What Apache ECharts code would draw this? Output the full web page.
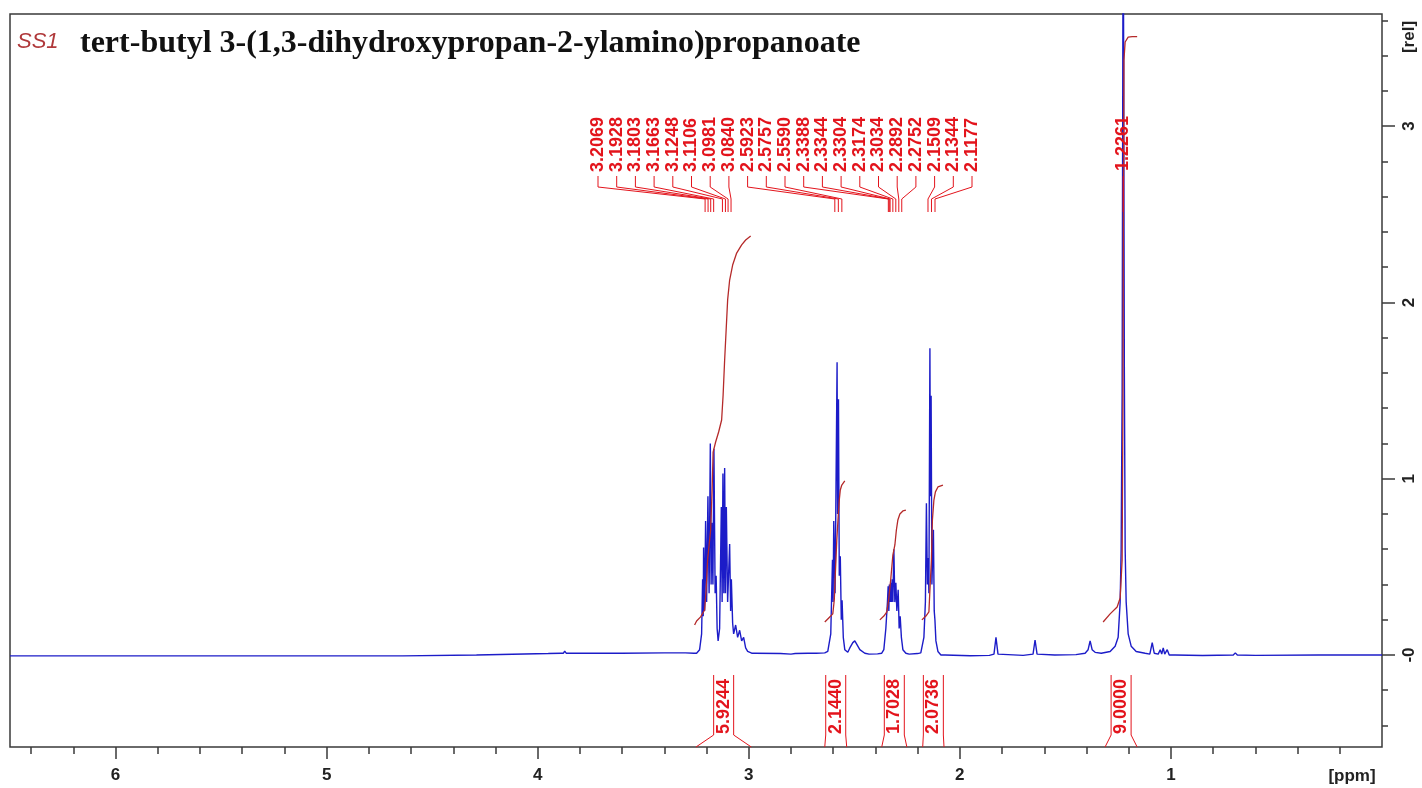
<!DOCTYPE html>
<html>
<head>
<meta charset="utf-8">
<style>
  html, body { margin: 0; padding: 0; background: #fff; }
  #chart { width: 1422px; height: 788px; }
</style>
</head>
<body>
<div id="chart"></div>
<script src="https://cdn.jsdelivr.net/npm/echarts@6/dist/echarts.min.js"></script>
<script>
// spectrum pieces, [ppm, rel]
const baselinePts = [
  [6.5, -0.005], [4.64, -0.005], [4.635, 0.0], [4.29, 0.0], [4.285, 0.006], [3.95, 0.008],
  [3.89, 0.01], [3.885, 0.02], [3.878, 0.01], [3.872, 0.022], [3.865, 0.01], [3.6, 0.01],
  [3.40, 0.012], [3.30, 0.012], [3.26, 0.01],
  [2.97, 0.01], [2.85, 0.008], [2.80, 0.005], [2.78, 0.008], [2.72, 0.01], [2.68, 0.01], [2.64, 0.012],
  [2.43, 0.005], [2.39, 0.006], [2.37, 0.01],
  [2.24, 0.005], [2.20, 0.008], [2.185, 0.012],
  [2.07, 0.0], [1.95, -0.004], [1.86, -0.002], [1.70, -0.002], [1.55, 0], [1.45, 0.002],
  [1.33, 0.01], [1.10, 0.005], [0.98, 0.0], [0.85, -0.003], [0.60, -0.002], [0.30, 0], [0.0, 0]
];
const mult1 = [
  [3.2472, 0.01], [3.2329, 0.03], [3.2234, 0.12], [3.2187, 0.43], [3.2158, 0.22], [3.2140, 0.61],
  [3.2092, 0.25], [3.2045, 0.76], [3.1997, 0.30], [3.1935, 0.90], [3.1879, 0.35], [3.1822, 1.20],
  [3.1784, 0.40], [3.1746, 0.75], [3.1698, 0.40], [3.1651, 1.17], [3.1594, 0.35], [3.1546, 0.45],
  [3.1499, 0.15], [3.1452, 0.08], [3.1381, 0.15], [3.1300, 0.84], [3.1262, 0.30], [3.1224, 1.03],
  [3.1181, 0.35], [3.1143, 1.06], [3.1105, 0.35], [3.1063, 0.84], [3.1001, 0.30], [3.0906, 0.63],
  [3.0859, 0.25], [3.0825, 0.43], [3.0764, 0.18], [3.0716, 0.12], [3.0622, 0.17], [3.0527, 0.10],
  [3.0432, 0.14], [3.0337, 0.08], [3.0243, 0.10], [3.0148, 0.04], [3.0053, 0.02], [2.9863, 0.01]
];
const mult2 = [
  [2.6257, 0.02], [2.6115, 0.12], [2.6034, 0.54], [2.6006, 0.30], [2.5973, 0.76], [2.5911, 0.35],
  [2.5816, 1.66], [2.5792, 0.80], [2.5750, 1.45], [2.5712, 0.45], [2.5664, 0.56], [2.5617, 0.20],
  [2.5579, 0.31], [2.5522, 0.10], [2.5451, 0.03], [2.5308, 0.015],
  [2.5213, 0.04], [2.5071, 0.07], [2.4976, 0.08], [2.4881, 0.06], [2.4739, 0.03], [2.4502, 0.01]
];
const mult3 = [
  [2.3601, 0.03], [2.3506, 0.15], [2.3430, 0.30], [2.3397, 0.39], [2.3364, 0.25], [2.3340, 0.40],
  [2.3307, 0.30], [2.3278, 0.41], [2.3245, 0.30], [2.3207, 0.43], [2.3174, 0.30], [2.3126, 0.60],
  [2.3079, 0.30], [2.3031, 0.41], [2.2984, 0.25], [2.2922, 0.37], [2.2875, 0.15], [2.2827, 0.22],
  [2.2770, 0.10], [2.2699, 0.03], [2.2557, 0.01]
];
const mult4 = [
  [2.1798, 0.02], [2.1703, 0.10], [2.1632, 0.30], [2.1584, 0.86], [2.1537, 0.40], [2.1499, 0.55],
  [2.1466, 0.35], [2.1418, 1.74], [2.1395, 0.90], [2.1361, 1.47], [2.1324, 0.40], [2.1252, 0.71],
  [2.1214, 0.25], [2.1181, 0.20], [2.1134, 0.08], [2.1039, 0.02], [2.0897, 0.0]
];
const singlet = [
  [1.2880, 0.02], [1.2643, 0.05], [1.2500, 0.10], [1.2405, 0.30], [1.2358, 0.60], [1.2311, 1.50],
  [1.2261, 4.50], [1.2206, 1.60], [1.2168, 0.60], [1.2120, 0.30], [1.2026, 0.12], [1.1883, 0.05],
  [1.1646, 0.02], [1.1220, 0.01]
];
const smallPeaks = [
  [1.8383, 0.005], [1.8288, 0.10], [1.8193, 0.005],
  [1.6532, 0.005], [1.6437, 0.085], [1.6342, 0.005],
  [1.4066, 0.01], [1.3923, 0.03], [1.3828, 0.08], [1.3733, 0.03], [1.3591, 0.015],
  [1.0982, 0.01], [1.0886, 0.07], [1.0791, 0.01],
  [1.0602, 0.005], [1.0507, 0.03], [1.0436, 0.005], [1.0365, 0.04], [1.0294, 0.005], [1.0175, 0.03], [1.0081, 0.0],
  [0.7045, 0.0], [0.6950, 0.012], [0.6855, 0.0]
];

// integral curves
const integral1 = [
  [3.2566, 0.170], [3.2471, 0.193], [3.2281, 0.216], [3.2092, 0.255], [3.2021, 0.369], [3.1950, 0.539],
  [3.1807, 0.709], [3.1736, 0.936], [3.1689, 1.151], [3.1570, 1.208], [3.1428, 1.265], [3.1286, 1.333],
  [3.1215, 1.475], [3.1143, 1.673], [3.1072, 1.843], [3.1001, 2.014], [3.0906, 2.127], [3.0764, 2.212],
  [3.0574, 2.280], [3.0337, 2.326], [3.0147, 2.354], [2.9910, 2.377]
];
const integral2 = [
  [2.6399, 0.187], [2.6210, 0.210], [2.6020, 0.233], [2.5949, 0.312], [2.5901, 0.454], [2.5830, 0.652],
  [2.5759, 0.794], [2.5712, 0.879], [2.5664, 0.936], [2.5593, 0.964], [2.5451, 0.987]
];
const integral3 = [
  [2.3790, 0.199], [2.3600, 0.221], [2.3458, 0.244], [2.3363, 0.323], [2.3268, 0.437], [2.3173, 0.567],
  [2.3078, 0.624], [2.3007, 0.709], [2.2936, 0.766], [2.2841, 0.800], [2.2699, 0.817], [2.2557, 0.822]
];
const integral4 = [
  [2.1798, 0.199], [2.1608, 0.221], [2.1466, 0.244], [2.1418, 0.369], [2.1347, 0.539], [2.1300, 0.766],
  [2.1229, 0.879], [2.1157, 0.925], [2.1039, 0.953], [2.0801, 0.964]
];
const integral5 = [
  [1.3212, 0.187], [1.2880, 0.233], [1.2548, 0.272], [1.2405, 0.323], [1.2311, 0.539], [1.2273, 1.446],
  [1.2249, 2.581], [1.2226, 3.375], [1.2169, 3.477], [1.2026, 3.505], [1.1837, 3.508], [1.1600, 3.508]
];

// peak picking and integration labels
const peakList = [3.2069, 3.1928, 3.1803, 3.1663, 3.1248, 3.1106, 3.0981, 3.0840,
  2.5923, 2.5757, 2.5590, 2.3388, 2.3344, 2.3304, 2.3174, 2.3034, 2.2892, 2.2752,
  2.1509, 2.1344, 2.1177];
const soloPeaks = [1.2261];
const integralFrom = [3.250, 2.640, 2.370, 2.176, 1.312];
const integralTo = [2.988, 2.536, 2.251, 2.075, 1.160];
const integralValues = [5.9244, 2.1440, 1.7028, 2.0736, 9.0000];

const xMajor = [1, 2, 3, 4, 5, 6];
const xMinor = [0.2, 0.4, 0.6, 0.8, 1.2, 1.4, 1.6, 1.8, 2.2, 2.4, 2.6, 2.8, 3.2, 3.4, 3.6, 3.8,
  4.2, 4.4, 4.6, 4.8, 5.2, 5.4, 5.6, 5.8, 6.2, 6.4];
const yMajor = [0, 1, 2, 3];
const yMinor = [-0.4, -0.2, 0.2, 0.4, 0.6, 0.8, 1.2, 1.4, 1.6, 1.8, 2.2, 2.4, 2.6, 2.8, 3.2, 3.4, 3.6];

const spectrum = [].concat(baselinePts, mult1, mult2, mult3, mult4, singlet, smallPeaks)
  .sort((a, b) => b[0] - a[0]);

const BLUE = '#1c1cc8';
const RED = '#e3141c';
const DARKRED = '#b52a2a';
const AXIS = '#3a3a3a';
const labelFont = 'bold 18px "Liberation Sans", Arial, sans-serif';
const labelStart = 598;
const labelStep = 18.7;

const chart = echarts.init(document.getElementById('chart'));

const tickAxisX = (values, len, labels) => ({
  type: 'value', min: 0, max: 6.5, inverse: true, position: 'bottom',
  axisLine: { show: false, onZero: false },
  splitLine: { show: false },
  axisTick: { show: true, customValues: values, length: len, lineStyle: { color: AXIS, width: 1.5 } },
  axisLabel: labels ? {
    show: true, customValues: values, margin: 20,
    fontFamily: 'Liberation Sans', fontWeight: 'bold', fontSize: 17, color: '#222'
  } : { show: false }
});
const tickAxisY = (values, len, labels) => ({
  type: 'value', min: -0.522, max: 3.636, position: 'right',
  axisLine: { show: false, onZero: false },
  splitLine: { show: false },
  axisTick: { show: true, customValues: values, length: len, lineStyle: { color: AXIS, width: 1.5 } },
  axisLabel: labels ? {
    show: true, customValues: values, margin: 19, rotate: 90,
    formatter: (v) => (v === 0 ? '-0' : String(v)),
    fontFamily: 'Liberation Sans', fontWeight: 'bold', fontSize: 17, color: '#222'
  } : { show: false }
});

const integralSeries = [integral1, integral2, integral3, integral4, integral5].map((d) => ({
  type: 'line', data: d, showSymbol: false, silent: true,
  lineStyle: { color: DARKRED, width: 1.3 }, z: 3
}));

const option = {
  animation: false,
  backgroundColor: '#fff',
  title: [
    {
      text: 'SS1', left: 12, top: 26,
      textStyle: { fontFamily: 'Liberation Sans', fontStyle: 'italic', fontWeight: 'normal', fontSize: 22, color: '#b0393b' }
    },
    {
      text: 'tert-butyl 3-(1,3-dihydroxypropan-2-ylamino)propanoate', left: 75, top: 23,
      textStyle: { fontFamily: 'Liberation Serif', fontWeight: 'bold', fontSize: 32, color: '#111' }
    }
  ],
  grid: {
    left: 10, right: 40, top: 14, bottom: 41,
    show: true, borderColor: AXIS, borderWidth: 1.5, backgroundColor: '#fff',
    outerBoundsMode: 'none'
  },
  xAxis: [tickAxisX(xMajor, 12, true), tickAxisX(xMinor, 7, false)],
  yAxis: [tickAxisY(yMajor, 13, true), tickAxisY(yMinor, 6, false)],
  graphic: [
    { type: 'text', x: 1352, y: 776, style: { text: '[ppm]', font: 'bold 17px "Liberation Sans"', fill: '#222', align: 'center', verticalAlign: 'middle' } },
    { type: 'text', x: 1409, y: 37, rotation: Math.PI / 2, style: { text: '[rel]', font: 'bold 17px "Liberation Sans"', fill: '#222', align: 'center', verticalAlign: 'middle' } }
  ],
  series: [
    {
      type: 'line', data: spectrum, showSymbol: false, silent: true,
      lineStyle: { color: BLUE, width: 1.4 }, z: 2
    },
    ...integralSeries,
    {
      type: 'custom', data: peakList.map((p) => [p, 0]), silent: true, clip: false, z: 5,
      renderItem: (params, api) => {
        const ppm = api.value(0);
        const px = api.coord([ppm, 0])[0];
        const lx = labelStart + params.dataIndex * labelStep;
        return {
          type: 'group', children: [
            { type: 'polyline', shape: { points: [[lx, 176], [lx, 187], [px, 199], [px, 212]] }, style: { stroke: RED, lineWidth: 1, fill: null } },
            { type: 'text', x: lx, y: 172, rotation: Math.PI / 2, style: { text: ppm.toFixed(4), fill: RED, font: labelFont, align: 'left', verticalAlign: 'middle' } }
          ]
        };
      }
    },
    {
      type: 'custom', data: soloPeaks.map((p) => [p, 0]), silent: true, clip: false, z: 5,
      renderItem: (params, api) => {
        const ppm = api.value(0);
        const px = api.coord([ppm, 0])[0];
        return {
          type: 'group', children: [
            { type: 'polyline', shape: { points: [[px, 176], [px, 212]] }, style: { stroke: RED, lineWidth: 1, fill: null } },
            { type: 'text', x: px, y: 171, rotation: Math.PI / 2, style: { text: ppm.toFixed(4), fill: RED, font: labelFont, align: 'left', verticalAlign: 'middle' } }
          ]
        };
      }
    },
    {
      type: 'custom', data: integralFrom.map((f, i) => [f, integralTo[i], integralValues[i]]), silent: true, clip: false, z: 5,
      renderItem: (params, api) => {
        const x1 = api.coord([api.value(0), 0])[0];
        const x2 = api.coord([api.value(1), 0])[0];
        const cx = (x1 + x2) / 2;
        const val = integralValues[params.dataIndex];
        return {
          type: 'group', children: [
            { type: 'polyline', shape: { points: [[cx - 10, 675], [cx - 10, 735], [x1, 747]] }, style: { stroke: RED, lineWidth: 1, fill: null } },
            { type: 'polyline', shape: { points: [[cx + 10, 675], [cx + 10, 735], [x2, 747]] }, style: { stroke: RED, lineWidth: 1, fill: null } },
            { type: 'text', x: cx, y: 734, rotation: Math.PI / 2, style: { text: val.toFixed(4), fill: RED, font: labelFont, align: 'left', verticalAlign: 'middle' } }
          ]
        };
      }
    }
  ]
};

chart.setOption(option);
</script>
</body>
</html>
